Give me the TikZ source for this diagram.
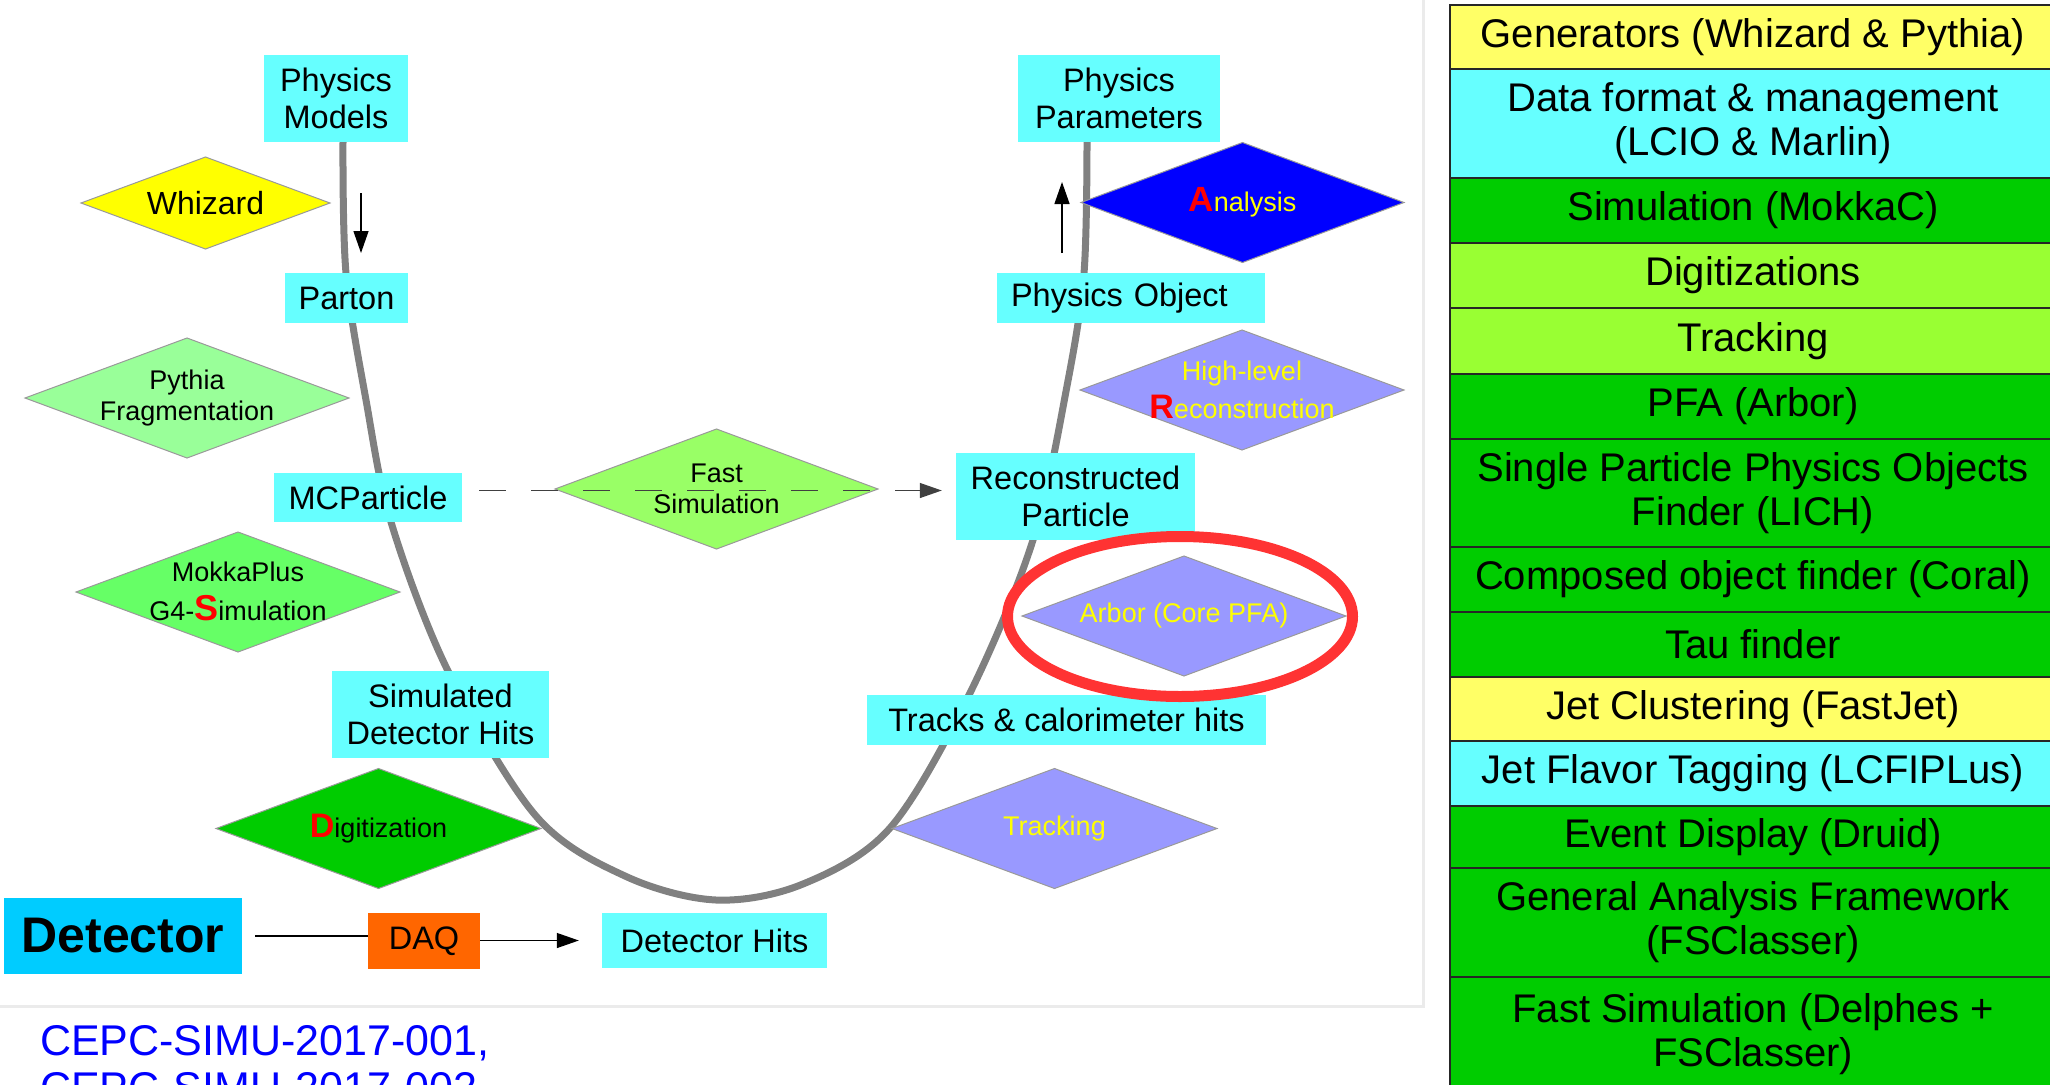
\documentclass[tikz,border=0pt]{standalone}
\usepackage{fontspec}
\setmainfont{Liberation Sans}
\usetikzlibrary{arrows.meta}
\definecolor{cyanbox}{HTML}{66FFFF}
\definecolor{detblue}{HTML}{00CCFF}
\definecolor{daqorange}{HTML}{FF6600}
\definecolor{tyellow}{HTML}{FFFF66}
\definecolor{tgreen}{HTML}{00CC00}
\definecolor{tlime}{HTML}{99FF33}
\definecolor{whiz}{HTML}{FFFF00}
\definecolor{pyth}{HTML}{99FF99}
\definecolor{mokka}{HTML}{66FF66}
\definecolor{fastg}{HTML}{99FF66}
\definecolor{lav}{HTML}{9999FF}
\definecolor{anab}{HTML}{0000FF}
\definecolor{ring}{HTML}{FF3333}
\definecolor{curveg}{HTML}{808080}
\definecolor{linkblue}{HTML}{0000FF}
\definecolor{ytext}{HTML}{FFFF00}
\newcommand\RL[2][35]{{\fontsize{#1}{#1}\selectfont\bfseries\color{red}#2}}
\newcommand\dmd[4]{\path[dia, fill=#4] (#1) ++(-#2,0) -- ++(#2,-#3) -- ++(#2,#3) -- ++(-#2,#3) -- cycle;}
\begin{document}
\begin{tikzpicture}[x=1pt, y=-1pt,
  cbox/.style={fill=cyanbox, inner sep=0pt, align=center, font=\fontsize{32.5}{36.5}\selectfont},
  dtext/.style={inner sep=0pt, align=center, font=\fontsize{27}{31}\selectfont},
  cell/.style={draw=black!85, line width=2pt, inner sep=0pt, align=center, anchor=north west, minimum width=606pt, font=\fontsize{40}{44}\selectfont},
  dia/.style={draw=black!40, line width=1pt},
  ln/.style={line width=1.3pt, draw=black},
  arr/.style={ln, -{Triangle[length=22pt,width=15pt]}}
]
\useasboundingbox (0,0) rectangle (2050,1084);
% panel edge
\draw[black!8, line width=3pt] (0,1006) -- (1423,1006) -- (1423,0);

% grey U curve
\draw[curveg, line width=7pt] plot[smooth, tension=0.55] coordinates {
 (343,142) (346,273) (366,400) (391,522) (448,671) (536,816) (625,876) (716,900)
 (803,884) (890,828) (969,695) (1033,540) (1067,386) (1084,273) (1087,142)};

% cyan boxes
\node[cbox, minimum width=144pt, minimum height=87pt] (pm) at (336,98.5) {Physics\\Models};
\node[cbox, minimum width=123pt, minimum height=50pt] (parton) at (346.5,298) {Parton};
\node[cbox, minimum width=188pt, minimum height=49pt] (mcp) at (368,497.5) {MCParticle};
\node[cbox, minimum width=217pt, minimum height=87pt] (simhits) at (440.5,714.5) {Simulated\\Detector Hits};
\node[cbox, minimum width=225pt, minimum height=55pt] (dethits) at (714.5,940.5) {Detector Hits};
\node[fill=detblue, inner sep=0pt, minimum width=238pt, minimum height=76pt, font=\bfseries\fontsize{50}{50}\selectfont] (det) at (123,936) {Detector};
\node[fill=daqorange, inner sep=0pt, minimum width=112pt, minimum height=56pt, font=\fontsize{32.5}{36.5}\selectfont] (daq) at (424,941) {DAQ};
\node[cbox, minimum width=202pt, minimum height=87pt] (pp) at (1119,98.5) {Physics\\Parameters};
\node[cbox, minimum width=268pt, minimum height=50pt, text width=240pt, align=left] (physobj) at (1131,298) {Physics Object};
\node[cbox, minimum width=239pt, minimum height=87pt] (recpart) at (1075.5,496.5) {Reconstructed\\Particle};
\node[cbox, minimum width=399pt, minimum height=50pt] (tracks) at (1066.5,720) {Tracks \& calorimeter hits};

% diamonds
\dmd{205.5,203}{124.5}{46}{whiz}
\node[dtext, font=\fontsize{32}{36}\selectfont] (whizard) at (205.5,203) {Whizard};
\dmd{187,398}{162}{60}{pyth}
\node[dtext] (pythia) at (187,398) {Pythia\\Fragmentation};
\dmd{238,592}{162}{60}{mokka}
\node[dtext] (mokkap) at (238,591) {MokkaPlus\\[8pt]G4-\RL[36]{S}imulation};
\dmd{378.5,828.5}{162.5}{60}{tgreen}
\node[dtext] (digit) at (378.5,829) {\RL[34]{D}igitization};
\dmd{716.5,489}{161.5}{60}{fastg}
\node[dtext] (fastsim) at (716.5,489) {Fast\\Simulation};
\dmd{1242.5,202.5}{161.5}{60}{anab}
\node[dtext, text=ytext] (analysis) at (1242.5,202) {\RL{A}nalysis};
\dmd{1242,390}{162}{60}{lav}
\node[dtext, text=ytext] (highrec) at (1242,390) {High-level\\[7pt]\RL[34]{R}econstruction};
\dmd{1184,616}{162}{60}{lav}
\node[dtext, text=ytext] (arbor) at (1184,616) {Arbor (Core PFA)};
\dmd{1054.5,828.5}{162.5}{60}{lav}
\node[dtext, text=ytext] (tracking) at (1054.5,828.5) {Tracking};

% connectors
\coordinate (dA) at (361,193);
\coordinate (dB) at (361,253);
\draw[arr] (dA) -- (dB);
\coordinate (uA) at (1062,253);
\coordinate (uB) at (1062,182);
\draw[arr] (uA) -- (uB);
\draw[ln, black!75, dash pattern=on 27pt off 25pt, -{Triangle[length=22pt,width=15pt]}, shorten <=17pt, shorten >=14pt]
  ([yshift=7pt]mcp.east) -- ([yshift=7pt]mcp.east -| recpart.west);
\draw[ln, shorten <=13pt] (det.east) -- (daq.west |- det.east);
\draw[arr, shorten >=23pt] (daq.east |- dethits.west) -- (dethits.west);

% red ring
\draw[ring, line width=11pt] (1180,616.5) ellipse [x radius=172.5pt, y radius=80pt];

% citation text
\node[anchor=base west, inner sep=0pt, text=linkblue, font=\fontsize{43}{47}\selectfont] (cite1) at (40,1055) {CEPC-SIMU-2017-001,};
\node[anchor=base west, inner sep=0pt, text=linkblue, font=\fontsize{43}{47}\selectfont] (cite2) at (40,1102) {CEPC-SIMU-2017-002};

% table
\node[cell, fill=tyellow, minimum height=64pt] (gen) at (1449,4) {Generators (Whizard \& Pythia)};
\node[cell, fill=cyanbox, minimum height=109pt] (data) at (1449,68) {Data format \& management\\(LCIO \& Marlin)};
\node[cell, fill=tgreen, minimum height=65pt] (sim) at (1449,177) {Simulation (MokkaC)};
\node[cell, fill=tlime, minimum height=65pt] (digs) at (1449,242) {Digitizations};
\node[cell, fill=tlime, minimum height=66pt] (trk) at (1449,307) {Tracking};
\node[cell, fill=tgreen, minimum height=65pt] (pfa) at (1449,373) {PFA (Arbor)};
\node[cell, fill=tgreen, minimum height=108pt] (spp) at (1449,438) {Single Particle Physics Objects\\Finder (LICH)};
\node[cell, fill=tgreen, minimum height=65pt] (comp) at (1449,546) {Composed object finder (Coral)};
\node[cell, fill=tgreen, minimum height=65pt] (tau) at (1449,611) {Tau finder};
\node[cell, fill=tyellow, minimum height=64pt] (jet) at (1449,676) {Jet Clustering (FastJet)};
\node[cell, fill=cyanbox, minimum height=65pt] (flav) at (1449,740) {Jet Flavor Tagging (LCFIPLus)};
\node[cell, fill=tgreen, minimum height=62pt] (evd) at (1449,805) {Event Display (Druid)};
\node[cell, fill=tgreen, minimum height=109pt] (gaf) at (1449,867) {General Analysis Framework\\(FSClasser)};
\node[cell, fill=tgreen, minimum height=114pt] (fast) at (1449,976) {Fast Simulation (Delphes +\\FSClasser)};
\end{tikzpicture}
\end{document}
